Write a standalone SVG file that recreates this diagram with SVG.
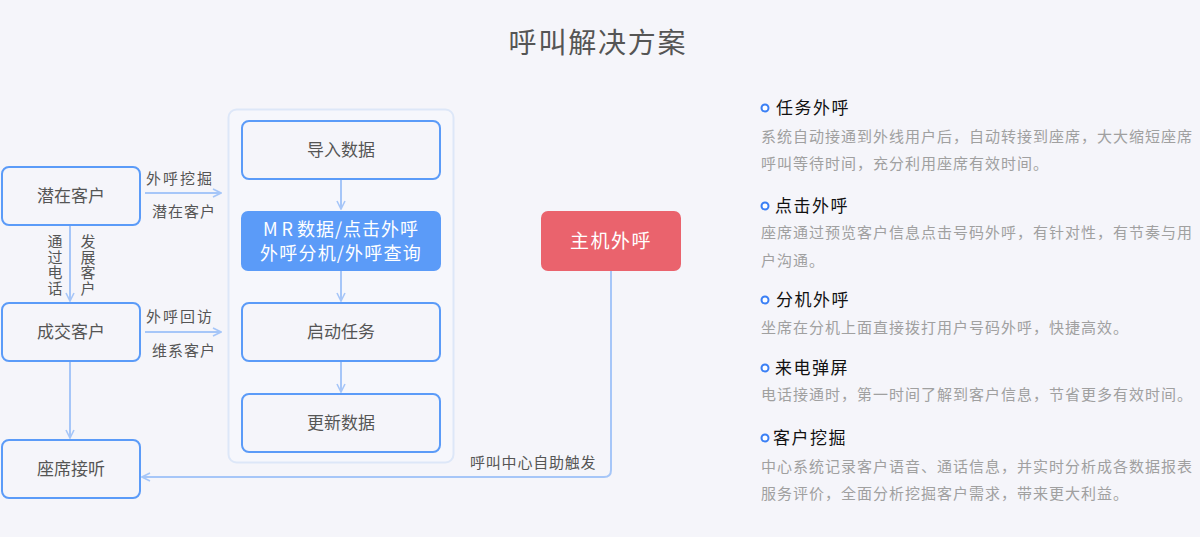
<svg xmlns="http://www.w3.org/2000/svg" width="1200" height="537" viewBox="0 0 1200 537">
<style>
text{font-family:"Noto Sans CJK SC","Noto Sans",sans-serif;}
.node{fill:#f5f5fa;stroke:#5b9bf8;stroke-width:2;}
.lbl{font-size:17px;fill:#555;text-anchor:middle;}
.small{font-size:15px;fill:#555;}
.vert{font-size:15px;fill:#555;writing-mode:vertical-rl;letter-spacing:0.5px;}
.conn{stroke:#a6c6f8;stroke-width:2;fill:none;}
.h{font-size:17px;fill:#111;letter-spacing:1.5px;}
.d{font-size:15px;fill:#a0a0a0;letter-spacing:1px;}
.dot{fill:#fff;stroke:#3a7ff5;stroke-width:2;}
</style>
<defs>
<marker id="arr" viewBox="0 0 10 10" refX="9" refY="5" markerWidth="10" markerHeight="10" markerUnits="userSpaceOnUse" orient="auto">
<path d="M1,1 L9,5 L1,9" fill="none" stroke="#a6c6f8" stroke-width="1.6"/>
</marker>
</defs>
<rect width="1200" height="537" fill="#f5f5fa"/>
<text x="598" y="53" font-size="28" fill="#555" text-anchor="middle" letter-spacing="1.8">呼叫解决方案</text>

<g id="container">
<rect x="228.5" y="109.5" width="225" height="353" rx="8" fill="#f6f7fc" stroke="#dde7f8" stroke-width="2"/>
</g>

<g id="connectors">
<line class="conn" x1="70" y1="226" x2="70" y2="301" marker-end="url(#arr)"/>
<line class="conn" x1="70" y1="362" x2="70" y2="438" marker-end="url(#arr)"/>
<line class="conn" x1="145" y1="193" x2="221" y2="193" marker-end="url(#arr)"/>
<line class="conn" x1="145" y1="332" x2="221" y2="332" marker-end="url(#arr)"/>
<line class="conn" x1="341" y1="180" x2="341" y2="209" marker-end="url(#arr)"/>
<line class="conn" x1="341" y1="271" x2="341" y2="301" marker-end="url(#arr)"/>
<line class="conn" x1="341" y1="362" x2="341" y2="392" marker-end="url(#arr)"/>
<path class="conn" d="M611,271 V470 Q611,477 604,477 H142" marker-end="url(#arr)"/>
<text class="small" x="146" y="184" letter-spacing="2">外呼挖掘</text>
<text class="small" x="152" y="217" letter-spacing="1">潜在客户</text>
<text class="small" x="146" y="322" letter-spacing="2">外呼回访</text>
<text class="small" x="152" y="356" letter-spacing="1">维系客户</text>
<text class="small" x="470" y="468" letter-spacing="0.8">呼叫中心自助触发</text>
<text class="vert" x="55" y="234">通过电话</text>
<text class="vert" x="88" y="234">发展客户</text>
</g>

<g id="n-qianzai"><rect class="node" x="2" y="167" width="138" height="58" rx="7"/><text class="lbl" x="71" y="202">潜在客户</text></g>
<g id="n-chengjiao"><rect class="node" x="2" y="303" width="138" height="58" rx="7"/><text class="lbl" x="71" y="338">成交客户</text></g>
<g id="n-zuoxi"><rect class="node" x="2" y="440" width="138" height="58" rx="7"/><text class="lbl" x="71" y="475">座席接听</text></g>

<g id="n-daoru"><rect class="node" x="242" y="121" width="198" height="58" rx="7"/><text class="lbl" x="341" y="156">导入数据</text></g>
<g id="n-mr"><rect x="241" y="211" width="200" height="60" rx="7" fill="#5b9bf8"/>
<text x="341" y="236" font-size="18" fill="#fff" text-anchor="middle" letter-spacing="1"><tspan letter-spacing="4">MR</tspan>数据/点击外呼</text>
<text x="341" y="260" font-size="18" fill="#fff" text-anchor="middle" letter-spacing="1.2">外呼分机/外呼查询</text></g>
<g id="n-qidong"><rect class="node" x="242" y="303" width="198" height="58" rx="7"/><text class="lbl" x="341" y="338">启动任务</text></g>
<g id="n-gengxin"><rect class="node" x="242" y="394" width="198" height="58" rx="7"/><text class="lbl" x="341" y="429">更新数据</text></g>

<g id="n-zhuji"><rect x="541" y="211" width="140" height="60" rx="7" fill="#ea636d"/><text x="611" y="248" font-size="19" fill="#fff" text-anchor="middle" letter-spacing="1.5">主机外呼</text></g>

<g id="features">
<circle class="dot" cx="765" cy="108" r="3.5"/>
<text class="h" x="776" y="114">任务外呼</text>
<text class="d" x="761" y="142">系统自动接通到外线用户后，自动转接到座席，大大缩短座席</text>
<text class="d" x="761" y="169">呼叫等待时间，充分利用座席有效时间。</text>
<circle class="dot" cx="765" cy="206" r="3.5"/>
<text class="h" x="775" y="212">点击外呼</text>
<text class="d" x="761" y="238">座席通过预览客户信息点击号码外呼，有针对性，有节奏与用</text>
<text class="d" x="761" y="266">户沟通。</text>
<circle class="dot" cx="765" cy="300" r="3.5"/>
<text class="h" x="776" y="306">分机外呼</text>
<text class="d" x="761" y="333">坐席在分机上面直接拨打用户号码外呼，快捷高效。</text>
<circle class="dot" cx="765" cy="368" r="3.5"/>
<text class="h" x="775" y="374">来电弹屏</text>
<text class="d" x="761" y="400">电话接通时，第一时间了解到客户信息，节省更多有效时间。</text>
<circle class="dot" cx="765" cy="438" r="3.5"/>
<text class="h" x="773" y="444">客户挖掘</text>
<text class="d" x="761" y="472">中心系统记录客户语音、通话信息，并实时分析成各数据报表</text>
<text class="d" x="761" y="499">服务评价，全面分析挖掘客户需求，带来更大利益。</text>
</g>
</svg>
